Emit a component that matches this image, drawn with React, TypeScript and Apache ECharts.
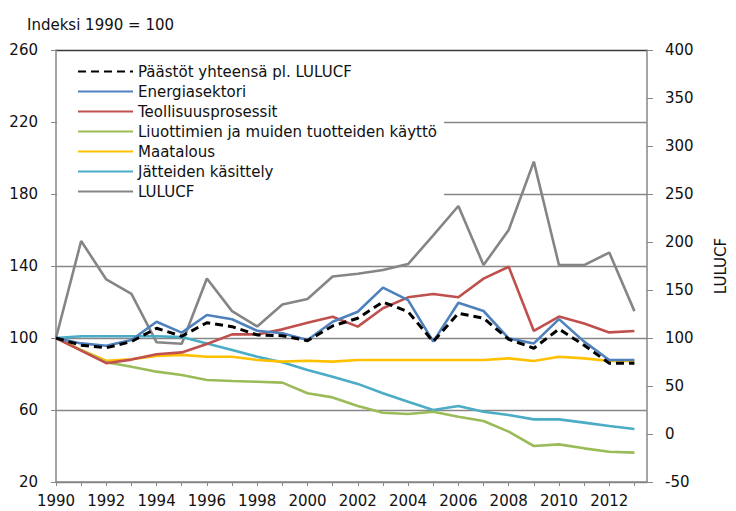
import React, { useEffect, useRef } from "react";
import * as echarts from "echarts";

const years = [1990, 1991, 1992, 1993, 1994, 1995, 1996, 1997, 1998, 1999, 2000, 2001, 2002, 2003, 2004, 2005, 2006, 2007, 2008, 2009, 2010, 2011, 2012, 2013];

const total = [100, 96, 94.6, 98, 105.4, 101, 108.5, 106.3, 101.7, 101.3, 98.5, 106.7, 111, 120, 114.6, 98, 113.7, 111, 99.3, 94.3, 105, 96, 86, 86];
const energy = [100, 97, 95.7, 98.9, 109, 103, 112.8, 110.4, 104, 102.6, 98.9, 109, 114.6, 128, 121, 98, 119.6, 115, 99.8, 97, 110.5, 98, 87.8, 87.8];
const industry = [100, 93, 86, 88, 91, 92, 96.7, 102, 102, 104.8, 108.5, 111.8, 106.3, 116.5, 122.6, 124.4, 122.6, 133, 139.6, 103.9, 111.9, 108.1, 103.1, 103.9];
const solvents = [100, 93.3, 86.5, 84, 81.3, 79.4, 76.7, 76.1, 75.7, 75.2, 69.3, 67, 62.2, 58.5, 57.8, 59, 56.3, 53.9, 48, 40, 40.9, 38.7, 36.8, 36.3];
const agriculture = [100, 93.3, 87.4, 88.2, 90, 90.6, 89.6, 89.6, 87.8, 86.9, 87.4, 86.9, 87.8, 87.8, 87.8, 87.8, 87.8, 87.8, 88.7, 87.2, 89.6, 88.7, 87.2, 87.2];
const waste = [100, 101, 101, 101, 101, 100.5, 97, 93.3, 89.6, 86.5, 82.2, 78.5, 74.5, 69.3, 64.6, 60, 62.2, 59, 57.2, 54.8, 54.8, 53, 51.1, 49.4];
const lulucf = [100, 201, 161, 146, 95.5, 94, 162, 128, 112, 135, 140.6, 164, 167, 170.8, 177, 207, 237.5, 176, 212.5, 283.7, 176, 176, 189, 128];

const names = [
  "Päästöt yhteensä pl. LULUCF",
  "Energiasektori",
  "Teollisuusprosessit",
  "Liuottimien ja muiden tuotteiden käyttö",
  "Maatalous",
  "Jätteiden käsittely",
  "LULUCF",
];
const colors = ["#000000", "#4F81BD", "#C0504D", "#9BBB59", "#FFC000", "#4BACC6", "#858585"];
const leftTicks = [20, 60, 100, 140, 180, 220, 260];
const rightTicks = [-50, 0, 50, 100, 150, 200, 250, 300, 350, 400];

const FONT = "'DejaVu Sans', sans-serif";

export default function App() {
  const ref = useRef<HTMLDivElement>(null);
  useEffect(() => {
    if (!ref.current) return;
    const chart = echarts.init(ref.current, null, { renderer: "svg" });
    const allData = [total, energy, industry, solvents, agriculture, waste, lulucf];
    const series = allData.map((d, i) => ({
      name: names[i],
      type: "line",
      yAxisIndex: i === 6 ? 1 : 0,
      symbol: "none",
      showSymbol: false,
      data: d.map((v, k) => [years[k], v]),
      lineStyle: {
        color: colors[i],
        width: i === 0 ? 3 : 2.6,
        type: i === 0 ? [8, 5] : "solid",
      },
      itemStyle: { color: colors[i] },
      z: 10 - i,
    }));
    chart.setOption({
      animation: false,
      textStyle: { fontFamily: FONT },
      title: {
        text: "Indeksi 1990 = 100",
        left: 22,
        top: 12,
        textStyle: { fontSize: 15, fontWeight: "normal", color: "#111", fontFamily: FONT },
      },
      legend: {
        orient: "vertical",
        left: 57,
        top: 58,
        padding: [6, 7, 6, 20],
        backgroundColor: "#ffffff",
        itemWidth: 55,
        itemHeight: 14,
        itemGap: 5,
        itemStyle: { opacity: 0 },
        data: names,
        textStyle: { fontSize: 15, color: "#111", fontFamily: FONT },
        z: 5,
      },
      grid: { left: 56, right: 73, top: 50, bottom: 29 },
      xAxis: {
        type: "value",
        min: 1990,
        max: 2013.5,
        interval: 1,
        splitLine: { show: false },
        axisLine: { show: true, onZero: false, lineStyle: { color: "#878787", width: 1.5 } },
        axisTick: { show: true, length: 4, lineStyle: { color: "#878787" } },
        axisLabel: {
          fontSize: 15,
          color: "#111",
          margin: 11,
          showMaxLabel: false,
          formatter: (v: number) => (Number.isInteger(v) && v % 2 === 0 ? String(v) : ""),
        },
      },
      yAxis: [
        {
          type: "value",
          min: leftTicks[0],
          max: leftTicks[leftTicks.length - 1],
          interval: 40,
          axisLine: { show: true, onZero: false, lineStyle: { color: "#878787", width: 1.5 } },
          axisTick: { show: true, length: 5, lineStyle: { color: "#878787" } },
          axisLabel: { fontSize: 15, color: "#111", margin: 18 },
          splitLine: {
            show: true,
            lineStyle: {
              color: ["#878787", "#878787", "#878787", "#878787", "#878787", "#878787", "#3a3a3a"],
              width: 1.3,
            },
          },
        },
        {
          type: "value",
          position: "right",
          min: rightTicks[0],
          max: rightTicks[rightTicks.length - 1],
          interval: 50,
          name: "LULUCF",
          nameLocation: "middle",
          nameGap: 66,
          nameRotate: 90,
          nameTextStyle: { fontSize: 15, color: "#111", fontFamily: FONT },
          axisLine: { show: true, onZero: false, lineStyle: { color: "#878787", width: 1.5 } },
          axisTick: { show: true, length: 6, lineStyle: { color: "#878787" } },
          axisLabel: { fontSize: 15, color: "#111", margin: 18 },
          splitLine: { show: false },
        },
      ],
      series,
    });
    return () => chart.dispose();
  }, []);
  return <div ref={ref} style={{ width: 736, height: 511, position: "absolute", left: 0, top: 0 }} />;
}
